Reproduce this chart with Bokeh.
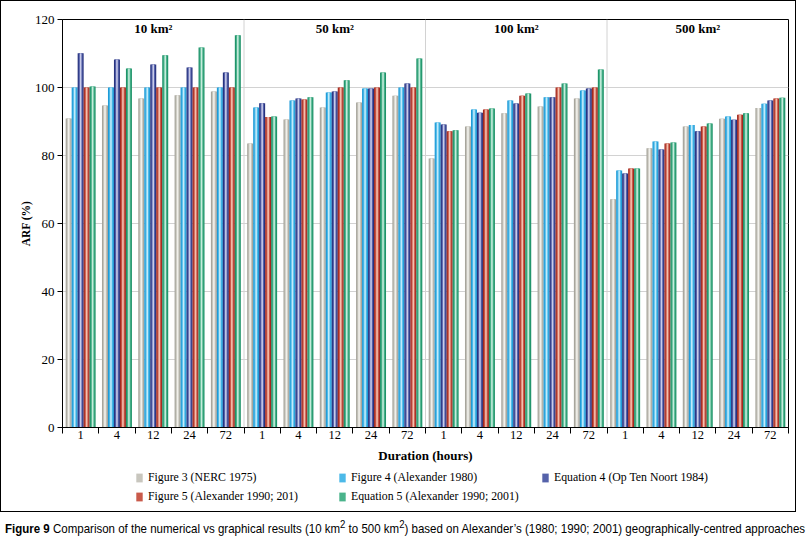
from bokeh.plotting import figure
from bokeh.models import (Range1d, FixedTicker, Legend, LegendItem, ColumnDataSource,
                          Div, Arrow, Span, CustomJSTickFormatter)
from bokeh.layouts import column
from bokeh.embed import file_html
from bokeh.resources import INLINE
from bokeh.core.properties import value

# ---------------- data ----------------
areas = ["10 km²", "50 km²", "100 km²", "500 km²"]
durations = ["1", "4", "12", "24", "72"]
series_names = ["Figure 3 (NERC 1975)", "Figure 4 (Alexander 1980)",
                "Equation 4 (Op Ten Noort 1984)", "Figure 5 (Alexander 1990; 201)",
                "Equation 5 (Alexander 1990; 2001)"]

nerc_1975 = [90.9, 94.7, 96.8, 97.7, 98.8,
             83.5, 90.6, 94.1, 95.6, 97.6,
             79.1, 88.5, 92.4, 94.4, 96.8,
             67.1, 82.1, 88.5, 90.8, 94.0]
fig4_1980 = [100, 100, 100, 100, 100,
             94.1, 96.2, 98.5, 99.7, 100,
             89.7, 93.5, 96.2, 97.1, 99.1,
             75.6, 84.1, 89.0, 91.5, 95.2]
eq4_1984 = [110.1, 108.2, 106.8, 105.9, 104.4,
            95.4, 96.8, 98.8, 99.7, 101.2,
            89.1, 92.6, 95.3, 97.1, 99.7,
            74.7, 81.8, 87.1, 90.5, 96.2]
fig5_1990 = [100, 100, 100, 100, 100,
             91.3, 96.5, 100, 100, 100,
             87.1, 93.5, 97.6, 100, 100,
             76.2, 83.5, 88.5, 92.0, 96.8]
eq5_2001 = [100.3, 105.6, 109.5, 111.8, 115.4,
            91.5, 97.1, 102.1, 104.4, 108.5,
            87.4, 93.8, 98.2, 101.2, 105.3,
            76.2, 83.8, 89.4, 92.4, 97.0]

values = [nerc_1975, fig4_1980, eq4_1984, fig5_1990, eq5_2001]

dark = ["#a7a59c", "#1f9bd7", "#28337f", "#a3291f", "#1f936a"]
mid = ["#c8c6be", "#4cb9e8", "#5562aa", "#c95a4a", "#4ab38b"]
light = ["#f1f0eb", "#c2ebfa", "#c9cbe9", "#f4bfae", "#c6ecdc"]

SERIF = "Liberation Serif"

n_per = len(durations)
n_groups = len(areas) * n_per
centers = [i + 0.5 for i in range(n_groups)]
bar_w = 0.165

p = figure(width=794, height=466, x_range=Range1d(0, n_groups), y_range=Range1d(0, 120),
           output_backend="svg", toolbar_location=None,
           min_border_left=61, min_border_right=7, min_border_top=18, min_border_bottom=40,
           background_fill_color="white", border_fill_color="white")
p.outline_line_color = "black"
p.outline_line_width = 1

# grid
p.xgrid.visible = False
p.ygrid.grid_line_color = "#d2d2d2"
p.ygrid.grid_line_width = 1

# y axis
p.yaxis.ticker = FixedTicker(ticks=list(range(0, 121, 20)), minor_ticks=[])
p.yaxis.major_tick_out = 5
p.yaxis.major_tick_in = 0
p.yaxis.minor_tick_out = 0
p.yaxis.axis_line_color = "black"
p.yaxis.major_label_text_font = SERIF
p.yaxis.major_label_text_font_size = "13px"
p.yaxis.major_label_text_color = "black"
p.yaxis.major_label_standoff = 3
p.yaxis.axis_label = "ARF (%)"
p.yaxis.axis_label_text_font = SERIF
p.yaxis.axis_label_text_font_style = "bold"
p.yaxis.axis_label_text_font_size = "11.5px"
p.yaxis.axis_label_text_color = "black"
p.yaxis.axis_label_standoff = 0

# x axis
p.xaxis.ticker = FixedTicker(ticks=centers, minor_ticks=list(range(n_groups + 1)))
p.xaxis.formatter = CustomJSTickFormatter(args=dict(labels=durations),
                                          code="return labels[Math.floor(tick) % labels.length];")
p.xaxis.major_tick_out = 0
p.xaxis.major_tick_in = 0
p.xaxis.minor_tick_out = 6
p.xaxis.minor_tick_in = 0
p.xaxis.minor_tick_line_color = "black"
p.xaxis.axis_line_color = "black"
p.xaxis.major_label_standoff = -3
p.xaxis.major_label_text_font = SERIF
p.xaxis.major_label_text_font_size = "12.5px"
p.xaxis.major_label_text_color = "black"
p.xaxis.axis_label = "Duration (hours)"
p.xaxis.axis_label_text_font = SERIF
p.xaxis.axis_label_text_font_style = "bold"
p.xaxis.axis_label_text_font_size = "13px"
p.xaxis.axis_label_text_color = "black"
p.xaxis.axis_label_standoff = 6

# panel separators
for b in range(n_per, n_groups, n_per):
    p.add_layout(Span(location=b, dimension="height", line_color="#d2d2d2", line_width=1))
# long ticks at panel boundaries
for b in range(0, n_groups + 1, n_per):
    p.add_layout(Arrow(end=None, x_start=b, y_start=0, x_end=b, y_end=-5,
                       line_color="black", line_width=1))

# bars
for k, (name, vals) in enumerate(zip(series_names, values)):
    xs = [c + (k - 2) * bar_w for c in centers]
    src = ColumnDataSource(dict(x=xs, top=vals))
    p.vbar(x="x", top="top", bottom=0, width=bar_w, source=src,
           fill_color=dark[k], line_color=None)
    p.vbar(x="x", top="top", bottom=0, width=bar_w * 0.62, source=src,
           fill_color=mid[k], line_color=None)
    p.vbar(x="x", top="top", bottom=0, width=bar_w * 0.26, source=src,
           fill_color=light[k], line_color=None)

# panel titles
title_x = [n_per * i + n_per / 2 for i in range(len(areas))]
p.text(x=title_x, y=[117.5] * len(areas), text=areas, text_align="center",
       text_baseline="middle", text_font=value(SERIF), text_font_style="bold",
       text_font_size="13px", text_color="black")

# ---------------- legend (own strip) ----------------
lf = figure(width=794, height=44, x_range=Range1d(0, 1), y_range=Range1d(0, 1),
            x_axis_type=None, y_axis_type=None,
            output_backend="svg", toolbar_location=None, min_border=0,
            background_fill_color="white", border_fill_color="white")
lf.outline_line_color = None
lf.grid.visible = False
items = []
for k, name in enumerate(series_names):
    r = lf.vbar(x=[0.5], top=[0], bottom=0, width=0.1, fill_color=mid[k], line_color=None)
    items.append(LegendItem(label=name, renderers=[r]))
legend = Legend(items=items, ncols=3, orientation="horizontal", location=(73, 7))
legend.label_text_font = SERIF
legend.label_text_font_size = "11.8px"
legend.label_text_color = "black"
legend.glyph_width = 8
legend.glyph_height = 11
legend.label_standoff = 5
legend.label_width = 186
legend.label_height = 14
legend.spacing = 4
legend.padding = 0
legend.margin = 0
legend.border_line_color = None
legend.background_fill_alpha = 0
lf.add_layout(legend, "center")

box = column(p, lf, styles={"border": "1px solid black"})

caption = Div(
    text='<span style="display:inline-block; transform:scaleX(0.885); transform-origin:0 50%; white-space:nowrap;">'
         '<span style="font-weight:bold">Figure 9</span> Comparison of the numerical vs graphical '
         'results (10 km<sup>2</sup> to 500 km<sup>2</sup>) based on Alexander’s (1980; 1990; 2001) '
         'geographically-centred approaches</span>',
    width=794,
    styles={"font-family": "'Liberation Sans', Arial, sans-serif",
            "font-size": "13px", "white-space": "nowrap", "margin-top": "5px", "color": "black",
            "overflow": "visible"})

layout = column(box, caption)
open("out.html", "w").write(file_html(layout, INLINE))
